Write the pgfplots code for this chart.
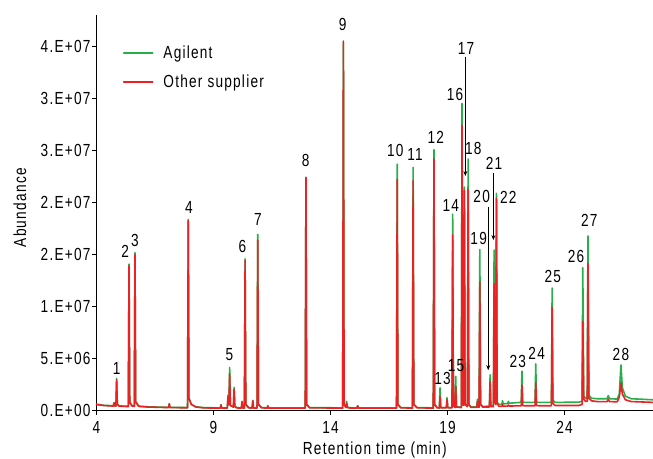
\documentclass[border=0pt]{standalone}
\usepackage{fontspec}
\setmainfont{Liberation Sans}[FakeStretch=0.78, LetterSpace=7]
\usepackage{pgfplots}
\pgfplotsset{compat=1.18}
\usetikzlibrary{arrows.meta}
\definecolor{agreen}{RGB}{40,175,75}
\definecolor{ored}{RGB}{237,32,36}
\newcommand\fs{\fontsize{17.5}{20}\selectfont}
\begin{document}
\begin{tikzpicture}
\useasboundingbox (0,0) rectangle (653pt,458pt);
\begin{axis}[
  at={(96.5pt,47.3pt)}, anchor=south west,
  scale only axis, width=556.5pt, height=395.7pt,
  xmin=4, xmax=27.78, ymin=0, ymax=38.05,
  axis lines=left, axis line style={-, black, line width=0.8pt},
  clip=false,
  tick align=outside, major tick length=4pt,
  tick style={black, line width=0.7pt},
  xtick={4,9,14,19,24}, xticklabels={4,9,14,19,24},
  ytick={0,5,10,15,20,25,30,35},
  yticklabels={0.E+00,5.E+06,1.E+07,2.E+07,2.E+07,3.E+07,3.E+07,4.E+07},
  /pgf/number format/assume math mode=true,
  ticklabel style={font=\fs},
  xticklabel style={yshift=-3pt},
  yticklabel style={xshift=1.5pt},
  xlabel={Retention time (min)}, ylabel={Abundance},
  label style={font=\fs},
  ylabel style={at={(axis description cs:-0.1375,0.513)}, anchor=center},
  xlabel style={at={(axis description cs:0.5,-0.099)}, anchor=center},
  legend style={at={(axis description cs:0.047,0.928)}, anchor=north west,
    draw=none, fill=none, font=\fs, row sep=11pt, inner sep=0pt},
  legend cell align=left,
  legend image code/.code={\draw[#1] (0pt,0pt) -- (29pt,0pt); \path (37pt,0pt);},
  every axis plot/.append style={line join=round, line cap=round},
]
\addplot[agreen, line width=1.6pt] coordinates {
(4.00,0.62) (4.30,0.52) (4.72,0.47) (4.75,0.78) (4.78,0.47)
(4.83,0.46) (4.86,3.10) (4.89,0.62) (4.97,0.46)
(5.36,0.42) (5.39,14.10) (5.42,0.82) (5.52,0.47)
(5.615,0.44) (5.645,15.20) (5.675,0.87) (5.8,0.44) (6.2,0.37)
(7.08,0.32) (7.11,0.68) (7.14,0.32)
(7.89,0.30) (7.92,18.40) (7.95,1.2) (8.05,0.62) (8.25,0.37) (8.6,0.29)
(9.29,0.27) (9.32,0.58) (9.35,0.27)
(9.59,0.28) (9.62,1.50) (9.66,0.6) (9.69,4.15) (9.72,0.5) (9.85,0.37) (9.88,2.25) (9.91,0.42) (10.0,0.29)
(10.19,0.27) (10.22,0.90) (10.25,0.27)
(10.32,0.27) (10.35,14.60) (10.38,0.62) (10.5,0.3)
(10.65,0.27) (10.68,1.00) (10.71,0.27)
(10.86,0.27) (10.89,16.95) (10.92,0.62) (11.05,0.3)
(11.29,0.27) (11.32,0.48) (11.35,0.27)
(12.92,0.27) (12.95,22.45) (12.98,0.62) (13.1,0.3)
(14.52,0.27) (14.55,35.40) (14.58,0.62) (14.66,0.32) (14.69,0.90) (14.72,0.32) (14.85,0.28)
(15.13,0.27) (15.16,0.48) (15.19,0.27)
(16.82,0.27) (16.85,23.70) (16.88,0.62) (17.0,0.3)
(17.50,0.27) (17.53,23.40) (17.56,0.62) (17.7,0.3)
(18.39,0.27) (18.42,25.10) (18.45,0.62) (18.55,0.3)
(18.65,0.28) (18.68,2.20) (18.71,0.3)
(18.95,0.3) (18.98,1.25) (19.01,0.3)
(19.19,0.3) (19.22,18.90) (19.25,0.52) (19.32,0.32) (19.35,3.30) (19.38,0.37)
(19.59,0.33) (19.62,29.55) (19.65,0.62) (19.69,0.52) (19.72,21.50) (19.75,0.62) (19.85,0.42) (19.88,24.20) (19.91,0.62) (20.0,0.35)
(20.25,0.36) (20.28,1.10) (20.31,0.38) (20.35,0.38) (20.38,15.50) (20.41,0.62) (20.5,0.4)
(20.79,0.45) (20.82,3.45) (20.85,0.48)
(20.96,0.5) (20.99,15.45) (21.03,0.9) (21.06,0.7) (21.09,20.90) (21.12,0.8) (21.2,0.6)
(21.32,0.62) (21.35,0.95) (21.38,0.65) (21.57,0.7) (21.6,0.90) (21.63,0.72)
(22.0,0.78) (22.15,0.8) (22.18,3.80) (22.21,0.82) (22.3,0.8)
(22.74,0.8) (22.77,4.50) (22.80,0.82) (22.9,0.8)
(23.44,0.8) (23.47,11.80) (23.50,1.0) (23.6,0.8)
(24.60,0.82) (24.75,0.9) (24.78,13.75) (24.82,1.4) (24.9,1.2) (24.97,1.2) (25.00,16.80) (25.04,1.5) (25.15,1.2) (25.4,1.15)
(25.82,1.15) (25.87,1.45) (25.92,1.15)
(26.25,1.12) (26.34,1.6) (26.41,4.40) (26.47,2.2) (26.6,1.4) (26.85,1.15)
(27.78,1.05)
};
\addlegendentry{Agilent}
\addplot[ored, line width=1.6pt] coordinates {
(4.00,0.60) (4.30,0.50) (4.72,0.45) (4.75,0.75) (4.78,0.45)
(4.83,0.44) (4.86,3.00) (4.89,0.60) (4.97,0.44)
(5.36,0.40) (5.39,13.90) (5.42,0.80) (5.52,0.45)
(5.615,0.42) (5.645,15.00) (5.675,0.85) (5.8,0.42) (6.2,0.35)
(7.08,0.30) (7.11,0.65) (7.14,0.30)
(7.89,0.28) (7.92,18.25) (7.95,1.2) (8.05,0.6) (8.25,0.35) (8.6,0.27)
(9.29,0.25) (9.32,0.55) (9.35,0.25)
(9.59,0.26) (9.62,1.30) (9.66,0.6) (9.69,3.55) (9.72,0.5) (9.85,0.35) (9.88,2.05) (9.91,0.4) (10.0,0.27)
(10.19,0.25) (10.22,0.85) (10.25,0.25)
(10.32,0.25) (10.35,14.45) (10.38,0.6) (10.5,0.28)
(10.65,0.25) (10.68,0.95) (10.71,0.25)
(10.86,0.25) (10.89,16.40) (10.92,0.6) (11.05,0.28)
(11.29,0.25) (11.32,0.45) (11.35,0.25)
(12.92,0.25) (12.95,22.40) (12.98,0.6) (13.1,0.28)
(14.52,0.25) (14.55,35.55) (14.58,0.6) (14.66,0.3) (14.69,0.70) (14.72,0.3) (14.85,0.26)
(15.13,0.25) (15.16,0.45) (15.19,0.25)
(16.82,0.25) (16.85,22.25) (16.88,0.6) (17.0,0.28)
(17.50,0.25) (17.53,22.10) (17.56,0.6) (17.7,0.28)
(18.39,0.25) (18.42,24.20) (18.45,0.6) (18.55,0.28)
(18.65,0.26) (18.68,1.35) (18.71,0.28)
(18.95,0.28) (18.98,1.05) (19.01,0.28)
(19.19,0.28) (19.22,16.90) (19.25,0.5) (19.32,0.3) (19.35,2.30) (19.38,0.35)
(19.59,0.3) (19.62,27.45) (19.65,0.6) (19.69,0.5) (19.72,21.20) (19.75,0.6) (19.85,0.4) (19.88,21.30) (19.91,0.6) (20.0,0.32)
(20.25,0.32) (20.28,0.90) (20.31,0.35) (20.35,0.33) (20.38,12.40) (20.41,0.6) (20.5,0.35)
(20.79,0.36) (20.82,2.80) (20.85,0.4)
(20.96,0.38) (20.99,12.20) (21.03,0.8) (21.06,0.6) (21.09,20.40) (21.12,0.7) (21.2,0.42)
(21.32,0.42) (21.35,0.60) (21.38,0.42) (21.57,0.45) (21.6,0.55) (21.63,0.45)
(22.15,0.47) (22.18,2.45) (22.21,0.5) (22.3,0.47)
(22.74,0.48) (22.77,2.70) (22.80,0.5) (22.9,0.48)
(23.44,0.48) (23.47,9.95) (23.50,0.7) (23.6,0.5)
(24.60,0.5) (24.75,0.6) (24.78,8.60) (24.82,1.1) (24.9,0.9) (24.97,0.9) (25.00,14.15) (25.04,1.2) (25.15,0.95) (25.4,0.88)
(25.82,0.87) (25.87,1.10) (25.92,0.87)
(26.25,0.86) (26.34,1.3) (26.41,2.65) (26.47,1.6) (26.6,1.05) (26.85,0.88)
(27.78,0.80)
};
\addlegendentry{Other supplier}
\begin{scope}[every node/.style={font=\fs, inner sep=0pt, anchor=center}]
\node at (axis cs:4.86,4.08) {1};
\node at (axis cs:5.22,15.29) {2};
\node at (axis cs:5.645,16.41) {3};
\node at (axis cs:7.95,19.56) {4};
\node at (axis cs:9.68,5.42) {5};
\node at (axis cs:10.23,15.77) {6};
\node at (axis cs:10.90,18.43) {7};
\node at (axis cs:12.94,24.04) {8};
\node at (axis cs:14.52,37.15) {9};
\node at (axis cs:16.77,25.07) {10};
\node at (axis cs:17.61,24.68) {11};
\node at (axis cs:18.50,26.29) {12};
\node at (axis cs:18.79,3.12) {13};
\node at (axis cs:19.14,19.78) {14};
\node at (axis cs:19.36,4.30) {15};
\node at (axis cs:19.32,30.45) {16};
\node at (axis cs:19.79,34.85) {17};
\node at (axis cs:20.10,25.23) {18};
\node at (axis cs:20.33,16.58) {19};
\node at (axis cs:20.46,20.58) {20};
\node at (axis cs:20.99,23.79) {21};
\node at (axis cs:21.60,20.48) {22};
\node at (axis cs:22.00,4.71) {23};
\node at (axis cs:22.81,5.52) {24};
\node at (axis cs:23.50,12.95) {25};
\node at (axis cs:24.49,14.87) {26};
\node at (axis cs:25.06,18.27) {27};
\node at (axis cs:26.41,5.36) {28};
\end{scope}
\draw[-{Stealth[length=5pt,width=4pt]}, black, line width=0.7pt] (axis cs:19.76,34.04) -- (axis cs:19.76,22.57);
\draw[-{Stealth[length=5pt,width=4pt]}, black, line width=0.7pt] (axis cs:20.74,19.6) -- (axis cs:20.74,3.9);
\draw[-{Stealth[length=5pt,width=4pt]}, black, line width=0.7pt] (axis cs:20.96,22.86) -- (axis cs:20.96,16.41);
\end{axis}
\end{tikzpicture}
\end{document}
